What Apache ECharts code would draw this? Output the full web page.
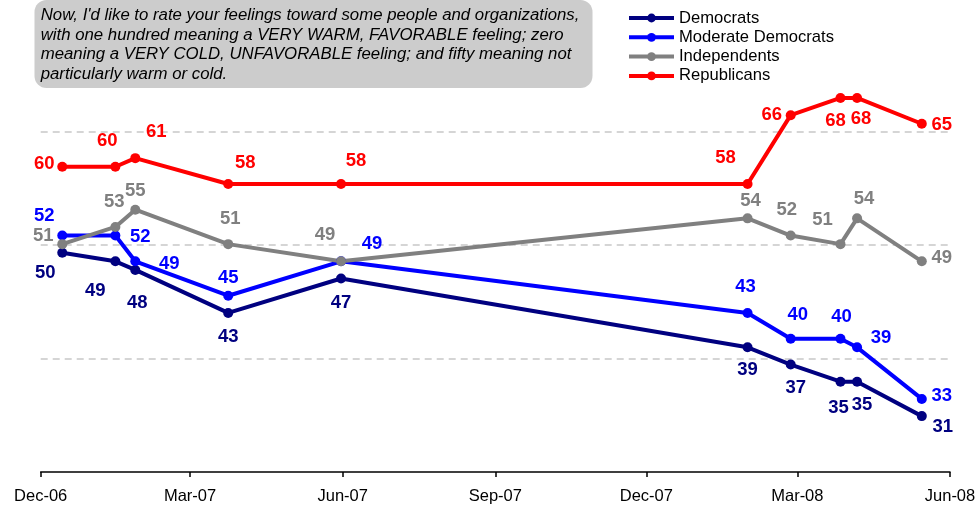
<!DOCTYPE html>
<html>
<head>
<meta charset="utf-8">
<script src="https://cdn.jsdelivr.net/npm/echarts@6/dist/echarts.min.js"></script>
<style>
  html, body { margin: 0; padding: 0; background: #fff; }
  #chart { width: 979px; height: 506px; }
</style>
</head>
<body>
<div id="chart"></div>
<script>
// Survey field dates and feeling-thermometer averages
const surveyDates = ['2006-12-14', '2007-01-15', '2007-01-27', '2007-03-24', '2007-05-31',
                     '2008-01-31', '2008-02-26', '2008-03-27', '2008-04-06', '2008-05-15'];
const democrats         = [50, 49, 48, 43, 47, 39, 37, 35, 35, 31];
const moderateDemocrats = [52, 52, 49, 45, 49, 43, 40, 40, 39, 33];
const independents      = [51, 53, 55, 51, 49, 54, 52, 51, 54, 49];
const republicans       = [60, 60, 61, 58, 58, 58, 66, 68, 68, 65];

const seriesNames = ['Democrats', 'Moderate Democrats', 'Independents', 'Republicans'];

// Quarterly tick marks on the date axis
const tickDates  = ['2006-12-01', '2007-03-01', '2007-06-01', '2007-09-01', '2007-12-01', '2008-03-01', '2008-06-01'];
const tickLabels = ['Dec-06', 'Mar-07', 'Jun-07', 'Sep-07', 'Dec-07', 'Mar-08', 'Jun-08'];

const noteLines = [
  "Now, I'd like to rate your feelings toward some people and organizations,",
  'with one hundred meaning a VERY WARM, FAVORABLE feeling; zero',
  'meaning a VERY COLD, UNFAVORABLE feeling; and fifty meaning not',
  'particularly warm or cold.'
];

// ---- presentation ----
const FONT = '"Liberation Sans", Arial, sans-serif';
const colors = ['#000080', '#0000ff', '#808080', '#ff0000'];

// label nudges (px, relative to each marker centre)
const labelNudges = [
  [[-17, 20], [-20, 30], [2, 33], [0, 24], [0, 24], [0, 23], [5, 23], [-2, 26], [5, 23], [21, 11]],
  [[-18, -20], [25, 1], [34, 3], [0, -18], [31, -17], [-2, -26], [7, -24], [1, -22], [24, -9], [20, -3]],
  [[-19, -8], [-1, -25], [0, -19], [2, -25], [-16, -26], [3, -17], [-4, -26], [-18, -24], [7, -19], [20, -3]],
  [[-18, -3], [-8, -26], [21, -26], [17, -21], [15, -23], [-22, -26], [-19, 0], [-5, 23], [4, 21], [20, 1]]
];

function ts(s) {
  const p = s.split('-').map(Number);
  return Date.UTC(p[0], p[1] - 1, p[2]);
}
const tickValues = tickDates.map(ts);

const valueSets = [democrats, moderateDemocrats, independents, republicans];

const series = valueSets.map((vals, si) => ({
  name: seriesNames[si],
  type: 'line',
  symbol: 'circle',
  symbolSize: 10,
  color: colors[si],
  lineStyle: { width: 4, color: colors[si] },
  itemStyle: { color: colors[si] },
  emphasis: { disabled: true },
  label: {
    show: true,
    position: 'inside',
    color: colors[si],
    fontFamily: FONT,
    fontSize: 18.5,
    fontWeight: 'bold',
    formatter: p => p.value[1]
  },
  data: vals.map((v, i) => ({
    value: [ts(surveyDates[i]), v],
    label: { offset: labelNudges[si][i] }
  }))
}));

const chart = echarts.init(document.getElementById('chart'), null, { renderer: 'canvas' });
chart.setOption({
  animation: false,
  backgroundColor: '#ffffff',
  textStyle: { fontFamily: FONT },
  grid: { left: 40.7, right: 29, top: 18, bottom: 34 },
  legend: {
    orient: 'vertical',
    left: 622,
    top: 4.5,
    itemWidth: 45,
    itemHeight: 11,
    itemGap: 2.3,
    data: seriesNames,
    lineStyle: { width: 4 },
    textStyle: { fontSize: 16.6, color: '#000', fontFamily: FONT }
  },
  xAxis: {
    type: 'value',
    min: ts('2006-12-01'),
    max: ts('2008-06-01'),
    splitLine: { show: false },
    axisLine: { show: true, lineStyle: { color: '#000', width: 1.5 } },
    axisTick: { show: true, customValues: tickValues, length: 5, lineStyle: { color: '#000', width: 1.5 } },
    axisLabel: {
      customValues: tickValues,
      margin: 16,
      fontSize: 16.5,
      color: '#000',
      fontFamily: FONT,
      formatter: v => tickLabels[tickValues.indexOf(v)]
    }
  },
  yAxis: [
    { type: 'value', min: 24.5, max: 77.3, show: false },
    {
      type: 'value', min: 0, max: 4, interval: 1,
      axisLine: { show: false }, axisTick: { show: false }, axisLabel: { show: false },
      splitLine: {
        show: true, showMinLine: false, showMaxLine: false,
        lineStyle: { color: '#c8c8c8', width: 1.5, type: [7, 5] }
      }
    }
  ],
  graphic: [
    {
      type: 'rect',
      shape: { x: 34.5, y: 0, width: 558, height: 88, r: 12 },
      style: { fill: '#cccccc' },
      z: 10
    },
    {
      type: 'text',
      x: 40.7,
      y: 6,
      style: {
        text: noteLines.join('\n'),
        font: 'italic 16.8px ' + FONT,
        fill: '#000',
        lineHeight: 19.5
      },
      z: 11
    }
  ],
  series: series
});
</script>
</body>
</html>
